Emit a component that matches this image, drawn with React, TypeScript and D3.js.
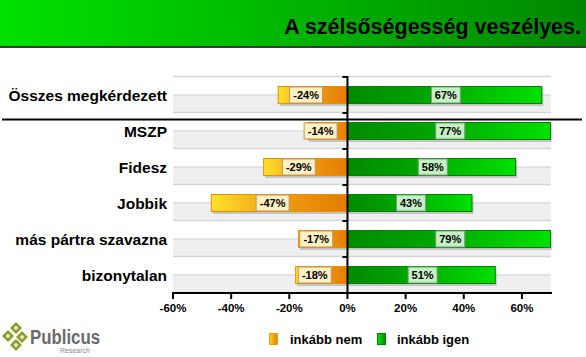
import React from "react";
import * as d3 from "d3";

const categories = ["Összes megkérdezett", "MSZP", "Fidesz", "Jobbik", "más pártra szavazna", "bizonytalan"];
const nemValues = [-24, -14, -29, -47, -17, -18];
const igenValues = [67, 77, 58, 43, 79, 51];
const tickValues = [-60, -40, -20, 0, 20, 40, 60];
const legendLabels = ["inkább nem", "inkább igen"];
const title = "A szélsőségesség veszélyes.";

const W = 586;
const H = 357;
const FONT = "'Liberation Sans', Arial, sans-serif";

export default function App() {
  const x = d3.scaleLinear().domain([-60, 70]).range([173, 551]);
  const y = d3.scaleBand<string>().domain(categories).range([77, 293]).padding(0);
  const step = y.step();
  const barH = 18;
  const x0 = x(0);
  const xMax = x.range()[1];

  const boundaries = d3.range(categories.length + 1).map((i) => 77 + i * step);

  return (
    <svg width={W} height={H} style={{ position: "absolute", left: 0, top: 0, fontFamily: FONT }}>
      <defs>
        <linearGradient id="banner" x1="0" x2="1" y1="0" y2="0">
          <stop offset="0" stopColor="#00e100" />
          <stop offset="1" stopColor="#008800" />
        </linearGradient>
        <linearGradient id="neg" x1="0" x2="1" y1="0" y2="0">
          <stop offset="0" stopColor="#ffe22a" />
          <stop offset="0.45" stopColor="#f0a018" />
          <stop offset="1" stopColor="#e47c00" />
        </linearGradient>
        <linearGradient id="pos" x1="0" x2="1" y1="0" y2="0">
          <stop offset="0" stopColor="#008a00" />
          <stop offset="0.45" stopColor="#00a800" />
          <stop offset="1" stopColor="#00e000" />
        </linearGradient>
        <linearGradient id="swNeg" x1="0" x2="1">
          <stop offset="0" stopColor="#ffd020" />
          <stop offset="1" stopColor="#e47c00" />
        </linearGradient>
        <linearGradient id="swPos" x1="0" x2="1">
          <stop offset="0" stopColor="#00e000" />
          <stop offset="1" stopColor="#008a00" />
        </linearGradient>
      </defs>

      <rect x={0} y={0} width={W} height={H} fill="#ffffff" />
      {/* Banner */}
      <rect x={0} y={0} width={W} height={46} fill="url(#banner)" />
      <rect x={0} y={46} width={W} height={2} fill="#3a3a3a" />
      <text x={581} y={34} textAnchor="end" fontSize={21.5} fontWeight="bold" fill="#000">
        {title}
      </text>

      {/* Plot background: gray lower half strips */}
      {categories.map((c) => (
        <rect key={"bg" + c} x={173} y={(y(c) as number) + step / 2} width={xMax - 173} height={step / 2} fill="#efefef" />
      ))}
      {/* gridlines at boundaries and centers */}
      {boundaries.map((b, i) => (
        <line key={"gb" + i} x1={173} x2={xMax} y1={b - 0.5} y2={b - 0.5} stroke="#d6d6d6" strokeWidth={1.5} />
      ))}
      {categories.map((c) => (
        <line key={"gc" + c} x1={173} x2={xMax} y1={(y(c) as number) + step / 2} y2={(y(c) as number) + step / 2} stroke="#dcdcdc" strokeWidth={1.5} />
      ))}

      {/* Separator */}
      <line x1={2} x2={582} y1={119.5} y2={119.5} stroke="#000" strokeWidth={2} />

      {/* Bars */}
      {categories.map((c, i) => {
        const cy = (y(c) as number) + step / 2;
        const nv = nemValues[i];
        const pv = igenValues[i];
        const nx = x(nv);
        const px = Math.min(x(pv), xMax);
        const negMid = (nx + x0) / 2 - 6.5;
        const posMid = (x0 + px) / 2 + 1;
        return (
          <g key={"bar" + c}>
            <rect x={nx + 2} y={cy - barH / 2 + 2} width={x0 - nx} height={barH} fill="#000" opacity={0.18} />
            <rect x={nx + 0.5} y={cy - barH / 2 + 0.5} width={x0 - nx - 1} height={barH - 1} fill="url(#neg)" stroke="#f08c00" strokeWidth={1} />
            <rect x={x0 + 2} y={cy - barH / 2 + 2} width={px - x0 - 1} height={barH} fill="#000" opacity={0.18} />
            <rect x={x0 + 0.5} y={cy - barH / 2 + 0.5} width={px - x0 - 1} height={barH - 1} fill="url(#pos)" stroke="#008000" strokeWidth={1} />
            <rect x={negMid - 16.5} y={cy - 8} width={33} height={16} fill="#fff0c4" stroke="#b89860" strokeWidth={1} />
            <text x={negMid} y={cy + 4} textAnchor="middle" fontSize={11} fontWeight="bold" fill="#000">
              {nv}%
            </text>
            <rect x={posMid - 14.5} y={cy - 8} width={29} height={16} fill="#c4f0c4" stroke="#70a070" strokeWidth={1} />
            <text x={posMid} y={cy + 4} textAnchor="middle" fontSize={11} fontWeight="bold" fill="#000">
              {pv}%
            </text>
          </g>
        );
      })}

      {/* Zero line with small ticks */}
      <line x1={x0} x2={x0} y1={76} y2={293} stroke="#000" strokeWidth={2} />
      {boundaries.slice(0, -1).map((b, i) => (
        <line key={"zt" + i} x1={x0 - 5} x2={x0} y1={b} y2={b} stroke="#000" strokeWidth={2} />
      ))}

      {/* Category labels */}
      {categories.map((c) => (
        <text key={"lab" + c} x={167} y={(y(c) as number) + step / 2 + 5.5} textAnchor="end" fontSize={15.5} fontWeight="bold" fill="#000">
          {c}
        </text>
      ))}

      {/* X axis */}
      <line x1={172} x2={552} y1={293} y2={293} stroke="#000" strokeWidth={2} />
      {tickValues.map((t) => (
        <g key={"t" + t}>
          <line x1={x(t)} x2={x(t)} y1={293} y2={299} stroke="#000" strokeWidth={2} />
          <text x={x(t)} y={311.5} textAnchor="middle" fontSize={11.5} fontWeight="bold" fill="#000">
            {t}%
          </text>
        </g>
      ))}

      {/* Legend */}
      <rect x={269.5} y={333.5} width={8} height={11} fill="url(#swNeg)" stroke="#f0a000" />
      <text x={290} y={343.5} fontSize={13} fontWeight="bold" fill="#000">{legendLabels[0]}</text>
      <rect x={377.5} y={333.5} width={8} height={11} fill="url(#swPos)" stroke="#008000" />
      <text x={397} y={343.5} fontSize={13} fontWeight="bold" fill="#000">{legendLabels[1]}</text>

      {/* Logo */}
      <g>
        {[
          [16, 328],
          [8, 336],
          [22, 337],
          [16, 345],
        ].map(([cx, cy], i) => (
          <g key={"d" + i}>
            <polygon points={`${cx},${cy - 6} ${cx + 6},${cy} ${cx},${cy + 6} ${cx - 6},${cy}`} fill="#8c9c2c" />
            <polygon points={`${cx},${cy - 2.5} ${cx + 2.5},${cy} ${cx},${cy + 2.5} ${cx - 2.5},${cy}`} fill="#e4eac0" />
          </g>
        ))}
        <text x={30} y={344} fontSize={20} fontWeight="bold" fill="#6a6a6a" textLength={70} lengthAdjust="spacingAndGlyphs">Publicus</text>
        <text x={90} y={353} textAnchor="end" fontSize={7} fill="#8a8a8a">Research</text>
      </g>
    </svg>
  );
}
